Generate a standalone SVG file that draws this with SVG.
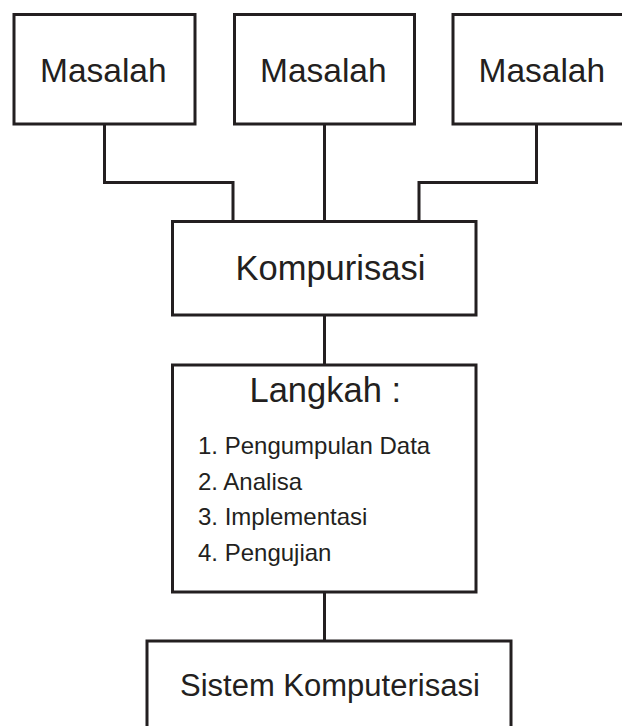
<svg xmlns="http://www.w3.org/2000/svg" width="622" height="726" viewBox="0 0 622 726">
<style>
.box{fill:#fff;stroke:#231f20;stroke-width:3}
.con{fill:none;stroke:#231f20;stroke-width:3}
text{font-family:"Liberation Sans",Arial,sans-serif;fill:#231f20}
.h{font-size:33.5px}
.k{font-size:34.5px}
.s{font-size:31px}
.li{font-size:24px}
</style>
<rect width="622" height="726" fill="#fff"/>
<g id="connectors">
<polyline class="con" points="104.5,124 104.5,182.5 233,182.5 233,221.5"/>
<line class="con" x1="324.5" y1="124" x2="324.5" y2="221.5"/>
<polyline class="con" points="536.5,124 536.5,182.5 419,182.5 419,221.5"/>
<line class="con" x1="324.5" y1="315" x2="324.5" y2="365"/>
<line class="con" x1="324.5" y1="592" x2="324.5" y2="641"/>
</g>
<g id="masalah1">
<rect class="box" x="14" y="14.5" width="181" height="109.5"/>
<text class="h" x="40" y="81.5">Masalah</text>
</g>
<g id="masalah2">
<rect class="box" x="234.5" y="14.5" width="180" height="109.5"/>
<text class="h" x="260" y="81.5">Masalah</text>
</g>
<g id="masalah3">
<rect class="box" x="453" y="14.5" width="180" height="109.5"/>
<text class="h" x="478.5" y="81.5">Masalah</text>
</g>
<g id="kompurisasi">
<rect class="box" x="172.5" y="221.5" width="303.5" height="93.5"/>
<text class="k" x="235.5" y="280">Kompurisasi</text>
</g>
<g id="langkah">
<rect class="box" x="172.5" y="365" width="303.5" height="227"/>
<text class="k" x="249.5" y="401.5">Langkah :</text>
<text class="li" x="198" y="454">1. Pengumpulan Data</text>
<text class="li" x="198" y="489.5">2. Analisa</text>
<text class="li" x="198" y="525">3. Implementasi</text>
<text class="li" x="198" y="560.5">4. Pengujian</text>
</g>
<g id="sistem">
<rect class="box" x="147" y="641" width="364" height="100"/>
<text class="s" x="180" y="696">Sistem Komputerisasi</text>
</g>
</svg>
